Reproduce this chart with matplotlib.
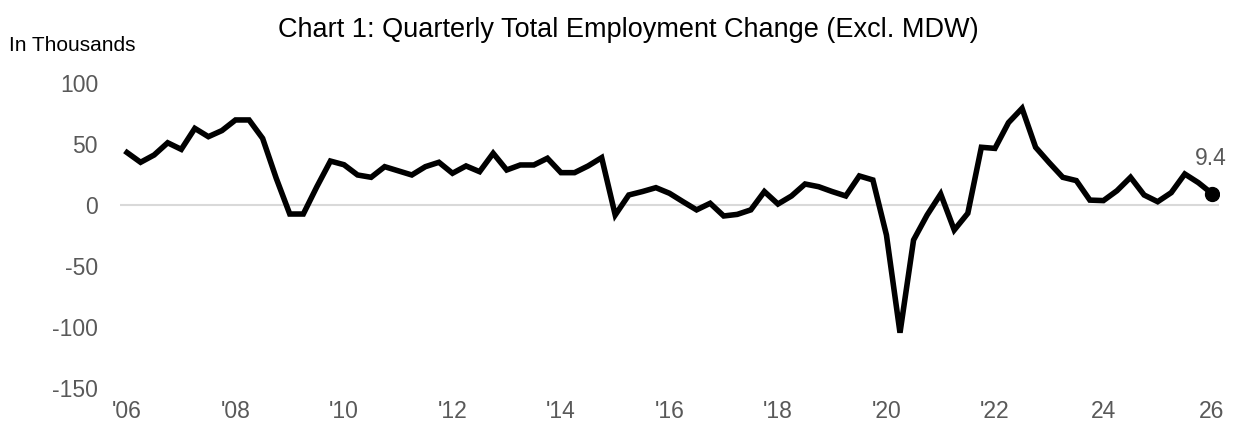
import numpy as np
import matplotlib
matplotlib.use('Agg')
import matplotlib.pyplot as plt

plt.rcParams['font.family'] = ['Liberation Sans', 'DejaVu Sans']

# Quarterly change in total employment, thousands (Q1 2006 onward)
emp_change = [
    43, 35, 41, 51,
    45.6, 62.8, 56, 61,
    69.7, 69.7, 54.6, 22,
    -7.4, -7.4, 15, 36,
    33, 24.6, 22.7, 31.4,
    28, 24.6, 31.4, 35,
    26, 32, 27.3, 42.4,
    28.7, 32.8, 32.8, 38.3,
    26.5, 26.5, 32, 38.8,
    -8.2, 8.2, 11, 14.2,
    9.6, 2.7, -4, 1.4,
    -9, -7.7, -4, 11,
    0.8, 7.4, 17.2, 15,
    11, 7.4, 23.8, 20.5,
    -24.6, -104.7, -28.7, -8.2,
    9, -20.5, -6.8, 47.3,
    46.4, 67.5, 79.2, 47.3,
    34.7, 22.7, 20, 4,
    3.6, 11.7, 22.7, 8.2,
    2.7, 10.1, 25.4, 18.3,
    9.4,
]
year_labels = ["'06", "'08", "'10", "'12", "'14", "'16", "'18", "'20", "'22", "24", "26"]
y_ticks = [100, 50, 0, -50, -100, -150]

x = np.arange(len(emp_change))

fig = plt.figure(figsize=(12.37, 4.30), dpi=100)
ax = fig.add_axes([0.0972, 0.0977, 0.888, 0.7093])

ax.axhline(0, color='#d9d9d9', lw=1.5, zorder=1)
ax.plot(x, emp_change, color='black', lw=4, solid_joinstyle='miter', zorder=3)
ax.plot(x[-1], emp_change[-1], 'o', color='black', ms=10, zorder=4)
ax.annotate(f'{emp_change[-1]}', (x[-1], emp_change[-1]), xytext=(-1, 17),
            textcoords='offset points', ha='center', va='bottom',
            fontsize=16.5, color='#595959')

ax.set_xlim(-0.5, len(emp_change) - 0.5)
ax.set_ylim(-150, 100)
ax.set_yticks(y_ticks)
ax.set_yticklabels([str(v) for v in y_ticks])
ax.set_xticks(np.arange(0, len(emp_change), 8))
ax.set_xticklabels(year_labels)
ax.tick_params(axis='both', length=0, labelsize=16.5, labelcolor='#595959')
ax.tick_params(axis='y', pad=16)
ax.tick_params(axis='x', pad=9)
for s in ax.spines.values():
    s.set_visible(False)

fig.text(0.508, 0.93, 'Chart 1: Quarterly Total Employment Change (Excl. MDW)',
         ha='center', va='center', fontsize=19.5, color='black')
fig.text(0.007, 0.895, 'In Thousands', ha='left', va='center', fontsize=15, color='black')

fig.savefig('out.png', dpi=100)
